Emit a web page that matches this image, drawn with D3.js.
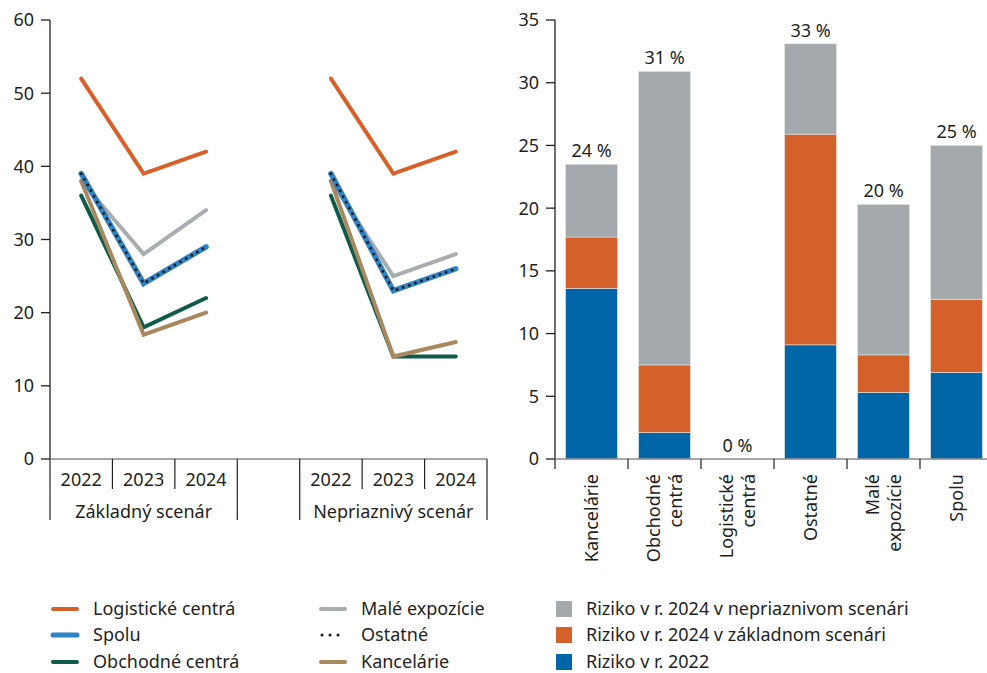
<!DOCTYPE html>
<meta charset="utf-8">
<title>Riziko</title>
<style>
  body { margin: 0; background: #fff; }
  svg text { font-family: "Noto Sans", Lato, sans-serif; font-size: 18px; fill: #231f20; }
</style>
<body>
<svg width="987" height="673"></svg>
<script src="https://d3js.org/d3.v7.min.js"></script>
<script>
// --- data: left chart (lines) ---
var years = ["2022", "2023", "2024"];
var scenarios = ["Základný scenár", "Nepriaznivý scenár"];
var lineNames = ["Malé expozície", "Obchodné centrá", "Kancelárie", "Logistické centrá", "Spolu", "Ostatné"];
var maleBase = [38, 28, 34],      maleAdverse = [38, 25, 28];
var obchodneBase = [36, 18, 22],  obchodneAdverse = [36, 14, 14];
var kancelarieBase = [38, 17, 20], kancelarieAdverse = [38, 14, 16];
var logistickeBase = [52, 39, 42], logistickeAdverse = [52, 39, 42];
var spoluBase = [39, 24, 29],     spoluAdverse = [39, 23, 26];
var ostatneBase = [39, 24, 29],   ostatneAdverse = [39, 23, 26];
var leftTicks = [0, 10, 20, 30, 40, 50, 60];

// --- data: right chart (stacked bars) ---
var categories = ["Kancelárie", "Obchodné centrá", "Logistické centrá", "Ostatné", "Malé expozície", "Spolu"];
var risk2022 = [13.6, 2.1, 0, 9.1, 5.3, 6.9];
var riskBase2024 = [4.1, 5.4, 0, 16.8, 3.0, 5.8];     // added on top of 2022
var riskAdverse2024 = [5.8, 23.4, 0, 7.2, 12.0, 12.3]; // added on top of base
var barLabels = ["24 %", "31 %", "0 %", "33 %", "20 %", "25 %"];
var rightTicks = [0, 5, 10, 15, 20, 25, 30, 35];
var barSeries = ["Riziko v r. 2024 v nepriaznivom scenári", "Riziko v r. 2024 v základnom scenári", "Riziko v r. 2022"];

var colors = {
  "Logistické centrá": "#d8612a",
  "Spolu": "#2f84c8",
  "Obchodné centrá": "#0e5b4b",
  "Malé expozície": "#a7adb0",
  "Ostatné": "#1d1d1b",
  "Kancelárie": "#a8895f"
};
var barColors = ["#a3a9ac", "#d4602a", "#0066a8"];

var svg = d3.select("svg");

// ================= LEFT CHART =================
var slots = ["a0", "a1", "a2", "gap", "b0", "b1", "b2"];
var xl = d3.scaleBand().domain(slots).range([50, 487]).padding(0);
var yl = d3.scaleLinear().domain([0, 60]).range([459, 20]);

var gl = svg.append("g");

// y axis
gl.append("line").attr("x1", 50).attr("x2", 50).attr("y1", yl(60)).attr("y2", yl(0))
  .attr("stroke", "#231f20").attr("stroke-width", 1.3);
gl.selectAll(".ytick").data(leftTicks).enter().append("line")
  .attr("x1", 41).attr("x2", 50).attr("y1", d => yl(d)).attr("y2", d => yl(d))
  .attr("stroke", "#231f20").attr("stroke-width", 1.3);
gl.selectAll(".ylab").data(leftTicks).enter().append("text")
  .attr("x", 34).attr("y", d => yl(d)).attr("dy", "0.36em").attr("text-anchor", "end")
  .text(d => d);

// x axis baseline
gl.append("line").attr("x1", 50).attr("x2", 487).attr("y1", yl(0)).attr("y2", yl(0))
  .attr("stroke", "#8a8a8a").attr("stroke-width", 1.5);

// separators
var bounds = slots.map(s => xl(s)).concat([xl.range()[1]]);
bounds.forEach(function (b, i) {
  var outer = (i === 0 || i === 3 || i === 4 || i === 7);
  gl.append("line").attr("x1", b).attr("x2", b).attr("y1", yl(0)).attr("y2", outer ? 520 : 489)
    .attr("stroke", "#231f20").attr("stroke-width", 1.2);
});

// year labels + scenario labels
scenarios.forEach(function (sc, si) {
  var pre = si === 0 ? "a" : "b";
  years.forEach(function (yr, yi) {
    gl.append("text").attr("x", xl(pre + yi) + xl.bandwidth() / 2).attr("y", 486)
      .attr("text-anchor", "middle").text(yr);
  });
  gl.append("text").attr("x", (xl(pre + "0") + xl(pre + "2") + xl.bandwidth()) / 2).attr("y", 518)
    .attr("text-anchor", "middle").text(sc);
});

var lineData = {
  "Malé expozície": [maleBase, maleAdverse],
  "Obchodné centrá": [obchodneBase, obchodneAdverse],
  "Kancelárie": [kancelarieBase, kancelarieAdverse],
  "Logistické centrá": [logistickeBase, logistickeAdverse],
  "Spolu": [spoluBase, spoluAdverse],
  "Ostatné": [ostatneBase, ostatneAdverse]
};

var line = d3.line()
  .x(d => xl(d.slot) + xl.bandwidth() / 2)
  .y(d => yl(d.v));

lineNames.forEach(function (name) {
  lineData[name].forEach(function (vals, si) {
    var pre = si === 0 ? "a" : "b";
    var pts = vals.map((v, i) => ({ slot: pre + i, v: v }));
    var p = gl.append("path").datum(pts).attr("d", line).attr("fill", "none")
      .attr("stroke", colors[name]).attr("stroke-linejoin", "miter");
    if (name === "Ostatné") {
      p.attr("stroke-width", 3).attr("stroke-dasharray", "0,6.5").attr("stroke-linecap", "round");
    } else if (name === "Spolu") {
      p.attr("stroke-width", 5.5).attr("stroke-linecap", "round");
    } else {
      p.attr("stroke-width", 4).attr("stroke-linecap", "round");
    }
  });
});

// ================= RIGHT CHART =================
var xr = d3.scaleBand().domain(categories).range([555, 993]).paddingInner(0.29).paddingOuter(0.145);
var yr = d3.scaleLinear().domain([0, 35]).range([459, 20]);
var gr = svg.append("g");

gr.append("line").attr("x1", 555).attr("x2", 555).attr("y1", yr(35)).attr("y2", yr(0))
  .attr("stroke", "#231f20").attr("stroke-width", 1.3);
gr.selectAll(".ytick").data(rightTicks).enter().append("line")
  .attr("x1", 546).attr("x2", 555).attr("y1", d => yr(d)).attr("y2", d => yr(d))
  .attr("stroke", "#231f20").attr("stroke-width", 1.3);
gr.selectAll(".ylab").data(rightTicks).enter().append("text")
  .attr("x", 539).attr("y", d => yr(d)).attr("dy", "0.36em").attr("text-anchor", "end")
  .text(d => d);

var stackRows = categories.map((c, i) => ({ cat: c, r2022: risk2022[i], base: riskBase2024[i], adverse: riskAdverse2024[i] }));
var stack = d3.stack().keys(["r2022", "base", "adverse"])(stackRows);
var stackColors = [barColors[2], barColors[1], barColors[0]];

stack.forEach(function (layer, li) {
  gr.selectAll(".l" + li).data(layer).enter().append("rect")
    .attr("x", d => xr(d.data.cat))
    .attr("width", xr.bandwidth())
    .attr("y", d => yr(d[1]))
    .attr("height", d => yr(d[0]) - yr(d[1]))
    .attr("fill", stackColors[li])
    .attr("stroke", "#e4e6e7").attr("stroke-width", 0.6);
});

// axis baseline + separators
gr.append("line").attr("x1", 555).attr("x2", 993).attr("y1", yr(0)).attr("y2", yr(0))
  .attr("stroke", "#8a8a8a").attr("stroke-width", 1.5);
var step = xr.step();
categories.forEach(function (c, i) {
  var b = 555 + i * step;
  gr.append("line").attr("x1", b).attr("x2", b).attr("y1", yr(0)).attr("y2", 469)
    .attr("stroke", "#231f20").attr("stroke-width", 1.2);
});

// total labels
stack[2].forEach(function (d, i) {
  gr.append("text").attr("x", xr(d.data.cat) + xr.bandwidth() / 2).attr("y", yr(d[1]) - 7)
    .attr("text-anchor", "middle").text(barLabels[i]);
});

// rotated category labels
categories.forEach(function (c) {
  var words = c.split(" ");
  var cx = xr(c) + xr.bandwidth() / 2;
  var n = words.length;
  words.forEach(function (w, wi) {
    var off = (wi - (n - 1) / 2) * 22;
    gr.append("text")
      .attr("transform", "translate(" + (cx + off) + ",474) rotate(-90)")
      .attr("dy", "0.36em").attr("text-anchor", "end").text(w);
  });
});

// ================= LEGENDS =================
var legLeft = [
  ["Logistické centrá", 52, 609], ["Spolu", 52, 635], ["Obchodné centrá", 52, 662],
  ["Malé expozície", 320, 609], ["Ostatné", 320, 635], ["Kancelárie", 320, 662]
];
legLeft.forEach(function (d) {
  var name = d[0], x = d[1], y = d[2];
  if (name === "Ostatné") {
    svg.append("line").attr("x1", x + 2).attr("x2", x + 19).attr("y1", y).attr("y2", y)
      .attr("stroke", colors[name]).attr("stroke-width", 3)
      .attr("stroke-dasharray", "0,8").attr("stroke-linecap", "round");
  } else {
    svg.append("line").attr("x1", x + 1).attr("x2", x + 25).attr("y1", y).attr("y2", y)
      .attr("stroke", colors[name]).attr("stroke-width", name === "Spolu" ? 5 : 4)
      .attr("stroke-linecap", "round");
  }
  svg.append("text").attr("x", x + 41).attr("y", y).attr("dy", "0.36em").text(name);
});

barSeries.forEach(function (s, i) {
  var y = [609, 635, 662][i];
  svg.append("rect").attr("x", 556).attr("y", y - 8).attr("width", 16).attr("height", 16)
    .attr("fill", barColors[i]);
  svg.append("text").attr("x", 586).attr("y", y).attr("dy", "0.36em").text(s);
});
</script>
</body>
